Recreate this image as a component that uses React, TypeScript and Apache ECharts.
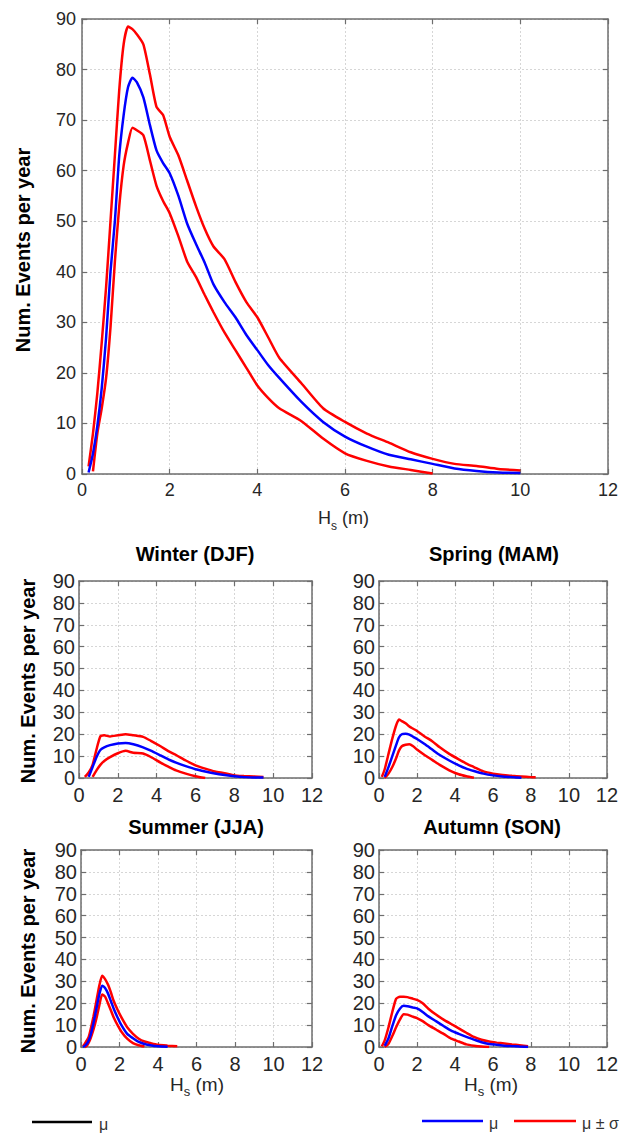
import React, { useEffect, useRef } from "react";
import * as echarts from "echarts";

// ---------- DATA ----------
const xTicks = [0, 2, 4, 6, 8, 10, 12];
const yTicks = [0, 10, 20, 30, 40, 50, 60, 70, 80, 90];

// All seasons (main panel)
const mainHs = [0.15, 0.25, 0.35, 0.45, 0.55, 0.65, 0.75, 0.85, 0.95, 1.05, 1.15, 1.25, 1.4, 1.55, 1.7, 1.85, 2.0, 2.2, 2.4, 2.6, 2.8, 3.0, 3.25, 3.5, 3.75, 4.0, 4.25, 4.5, 5.0, 5.5, 6.0, 6.5, 7.0, 7.5, 8.0, 8.5, 9.0, 9.5, 10.0];
const mainMean = [0.3, 4, 9.5, 17, 27, 40, 50, 63, 71, 76.5, 78.4, 77.5, 74.5, 69, 64, 61.5, 59.5, 55, 49.5, 45.5, 41.8, 37.5, 34, 31, 27.5, 24.5, 21.5, 19, 14.3, 10.3, 7.4, 5.4, 3.8, 2.9, 2, 1.1, 0.6, 0.3, 0.2];
const mainUpper = [1.5, 8, 16, 26, 37, 50, 63, 76, 85, 88.5, 88, 87, 85, 79, 72.6, 71, 66.7, 63, 58, 53, 48.5, 45, 42.5, 38, 34, 31, 27, 23, 18, 13, 10.3, 8, 6.2, 4.3, 3, 2, 1.6, 1, 0.7];
const mainLower = [null, 0.5, 8, 13, 19, 29, 42, 53, 61, 65.5, 68.5, 68, 67, 62, 57, 54, 51.6, 47, 42, 39, 35.4, 32, 28, 24.5, 21, 17.5, 15, 13, 10.5, 7, 4.1, 2.6, 1.5, 0.8, 0.1, null, null, null, null];

// Winter (DJF)
const winterHs = [0.3, 0.5, 0.7, 0.9, 1.1, 1.3, 1.6, 2.0, 2.4, 2.8, 3.3, 3.7, 4.2, 4.6, 5.0, 5.5, 6.0, 6.5, 7.0, 7.5, 8.0, 8.5, 9.0, 9.5];
const winterUpper = [0.5, 2.5, 6, 13, 19, 19.5, 19, 19.5, 20, 19.5, 18.8, 17, 14.5, 12.3, 10.5, 8, 5.8, 4.3, 3, 2.2, 1.2, 0.9, 0.7, 0.5];
const winterMean = [null, 0.5, 5, 9.5, 12.8, 14, 15, 15.8, 16, 15.4, 14, 12.5, 10.3, 8.5, 7, 5.4, 4, 3, 2.1, 1.4, 0.8, 0.4, 0.2, 0.2];
const winterLower = [null, null, 0.5, 3.5, 6, 7.8, 9.5, 11.3, 12.4, 11.5, 11.2, 9.6, 7, 5.2, 3.5, 2, 0.8, 0, null, null, null, null, null, null];

// Spring (MAM)
const springHs = [0.15, 0.3, 0.5, 0.7, 0.9, 1.05, 1.2, 1.4, 1.6, 1.8, 2.0, 2.4, 2.8, 3.2, 3.7, 4.2, 4.6, 5.0, 5.5, 6.0, 6.5, 7.0, 7.5, 8.0, 8.25];
const springUpper = [0.5, 4, 11, 18, 24, 26.7, 26, 25, 23.5, 22.5, 21.5, 19, 16.8, 14, 11, 8.5, 6.6, 5, 3, 2, 1.4, 1, 0.7, 0.4, 0.3];
const springMean = [null, 0.5, 5, 10, 15, 18.5, 20, 20.2, 19.8, 18.8, 17.8, 15.5, 13, 10.5, 8, 5.8, 4.3, 3.2, 2, 1.2, 0.7, 0.4, 0.1, null, null];
const springLower = [null, 0, 2, 5, 9, 12.5, 14.5, 15.2, 15.4, 14.5, 13, 10.5, 8.3, 6, 3.5, 1.7, 0.8, 0.1, null, null, null, null, null, null, null];

// Summer (JJA)
const summerHs = [0.1, 0.2, 0.3, 0.4, 0.5, 0.65, 0.8, 0.95, 1.1, 1.25, 1.4, 1.55, 1.7, 1.9, 2.1, 2.4, 2.7, 3.0, 3.3, 3.6, 4.0, 4.5, 5.0];
const summerUpper = [0.3, 1.5, 3, 4.6, 8, 14, 21, 28, 32.5, 31, 28.5, 25, 21, 17, 13.5, 9, 6, 3.8, 2.5, 1.8, 1.0, 0.6, 0.3];
const summerMean = [0, 0.5, 1.5, 3, 5.5, 11, 17.5, 24, 28, 27, 24.5, 21, 17.5, 13.5, 10, 6, 4, 2.3, 1.4, 0.8, 0.3, 0.1, null];
const summerLower = [null, 0, 0.5, 2, 4, 8, 13, 19, 24, 23, 20, 16.8, 13.5, 10, 7, 3.8, 1.8, 0.8, 0.2, null, null, null, null];

// Autumn (SON)
const autumnHs = [0.15, 0.3, 0.5, 0.7, 0.9, 1.1, 1.3, 1.5, 1.8, 2.0, 2.3, 2.6, 3.0, 3.4, 3.8, 4.2, 4.6, 5.0, 5.4, 5.8, 6.2, 6.6, 7.0, 7.4, 7.85];
const autumnUpper = [0.3, 3, 9, 16, 22, 23, 23, 22.8, 22, 21.5, 20, 17.5, 14.8, 12.5, 10.5, 8.5, 6.5, 4.6, 3.3, 2.5, 2, 1.6, 1.2, 0.8, 0.3];
const autumnMean = [null, 0.5, 4, 9.5, 14.5, 17.5, 18.8, 18.6, 18, 17.6, 16, 14, 11.8, 9.6, 7.5, 6, 4.6, 3.4, 2.2, 1.4, 1, 0.6, 0.4, 0.2, 0];
const autumnLower = [null, 0, 1.5, 5, 9, 12.5, 15, 14.8, 13.8, 13.2, 11.8, 10, 8, 6, 3.8, 2.5, 1.2, 0.6, 0.2, 0, null, null, null, null, null];

const panelTitles = ["", "Winter (DJF)", "Spring (MAM)", "Summer (JJA)", "Autumn (SON)"];
const yAxisTitle = "Num. Events per year";
const legendMean = "μ";
const legendBand = "μ ± σ";

// ---------- LAYOUT ----------
const FONT = '"Liberation Sans", Arial, sans-serif';
const panels = [
  { hs: mainHs, mean: mainMean, upper: mainUpper, lower: mainLower, left: 82, top: 19, width: 529, height: 455, tickFont: 18, yMargin: 6 },
  { hs: winterHs, mean: winterMean, upper: winterUpper, lower: winterLower, left: 79, top: 581, width: 233, height: 197, tickFont: 20, yMargin: 4 },
  { hs: springHs, mean: springMean, upper: springUpper, lower: springLower, left: 379, top: 581, width: 230, height: 197, tickFont: 20, yMargin: 4 },
  { hs: summerHs, mean: summerMean, upper: summerUpper, lower: summerLower, left: 81, top: 850, width: 231, height: 197, tickFont: 20, yMargin: 4 },
  { hs: autumnHs, mean: autumnMean, upper: autumnUpper, lower: autumnLower, left: 379, top: 850, width: 229, height: 197, tickFont: 20, yMargin: 4 },
];

const pairs = (xs: number[], ys: (number | null)[]) =>
  xs.map((x, i) => [x, ys[i]] as [number, number | null]).filter((p) => p[1] !== null);

const AXIS_COLOR = "#6e6e6e";
const LABEL_COLOR = "#262626";

function buildOption() {
  const grid: any[] = [];
  const xAxis: any[] = [];
  const yAxis: any[] = [];
  const series: any[] = [];
  const graphic: any[] = [];

  panels.forEach((p, g) => {
    grid.push({ left: p.left, top: p.top, width: p.width, height: p.height, containLabel: false });
    const line = { show: true, onZero: false, lineStyle: { color: AXIS_COLOR, width: 1.5 } };
    const tick = { show: true, inside: true, length: 5, lineStyle: { color: AXIS_COLOR, width: 1.2 } };
    xAxis.push({
      type: "value", gridIndex: g, position: "bottom", min: xTicks[0], max: xTicks[xTicks.length - 1], interval: 2,
      axisLine: line, axisTick: tick,
      axisLabel: { show: true, fontSize: p.tickFont, color: LABEL_COLOR, fontFamily: FONT, margin: 7, showMinLabel: true, showMaxLabel: true },
      splitLine: { show: true, lineStyle: { color: "#d6d6d6", width: 1, type: [2, 2] } },
    });
    xAxis.push({
      type: "value", gridIndex: g, position: "top", min: xTicks[0], max: xTicks[xTicks.length - 1], interval: 2,
      axisLine: line, axisTick: tick, axisLabel: { show: false }, splitLine: { show: false },
    });
    yAxis.push({
      type: "value", gridIndex: g, position: "left", min: yTicks[0], max: yTicks[yTicks.length - 1], interval: 10,
      axisLine: line, axisTick: tick,
      axisLabel: { show: true, fontSize: p.tickFont, color: LABEL_COLOR, fontFamily: FONT, margin: p.yMargin, showMinLabel: true, showMaxLabel: true },
      splitLine: { show: true, lineStyle: { color: "#d6d6d6", width: 1, type: [2, 2] } },
    });
    yAxis.push({
      type: "value", gridIndex: g, position: "right", min: yTicks[0], max: yTicks[yTicks.length - 1], interval: 10,
      axisLine: line, axisTick: tick, axisLabel: { show: false }, splitLine: { show: false },
    });
    const common = { type: "line", xAxisIndex: 2 * g, yAxisIndex: 2 * g, symbol: "none", showSymbol: false, silent: true, smooth: 0.2 };
    series.push({ ...common, name: legendBand, data: pairs(p.hs, p.upper), lineStyle: { color: "#ff0000", width: 2.5 }, itemStyle: { color: "#ff0000" } });
    series.push({ ...common, name: legendBand, data: pairs(p.hs, p.lower), lineStyle: { color: "#ff0000", width: 2.5 }, itemStyle: { color: "#ff0000" } });
    series.push({ ...common, name: legendMean, data: pairs(p.hs, p.mean), lineStyle: { color: "#0000ff", width: 2.5 }, itemStyle: { color: "#0000ff" } });
  });

  // Y axis titles (rotated)
  const yNames = [
    { x: 23, y: 250 },
    { x: 28, y: 681 },
    { x: 28, y: 951 },
  ];
  yNames.forEach((n) =>
    graphic.push({
      type: "text", x: n.x, y: n.y, rotation: Math.PI / 2,
      style: { text: yAxisTitle, fontSize: 20, fontWeight: "bold", fontFamily: FONT, fill: "#000", align: "center", verticalAlign: "middle" },
    })
  );

  // Panel titles
  const titlePos = [null, { x: 195, y: 554 }, { x: 494, y: 554 }, { x: 196, y: 827 }, { x: 492, y: 827 }];
  titlePos.forEach((t, i) => {
    if (!t) return;
    graphic.push({
      type: "text", x: t.x, y: t.y,
      style: { text: panelTitles[i], fontSize: 20, fontWeight: "bold", fontFamily: FONT, fill: "#000", align: "center", verticalAlign: "middle" },
    });
  });

  // X axis titles H_s (m)
  const xNames = [
    { x: 318, y: 518, size: 18 },
    { x: 170, y: 1084, size: 19 },
    { x: 464, y: 1084, size: 19 },
  ];
  xNames.forEach((n) => {
    const hW = n.size * 0.722;
    const sSize = Math.round(n.size * 0.68);
    const sW = sSize * 0.5;
    graphic.push({ type: "text", x: n.x, y: n.y, style: { text: "H", fontSize: n.size, fontFamily: FONT, fill: LABEL_COLOR, align: "left", verticalAlign: "middle" } });
    graphic.push({ type: "text", x: n.x + hW, y: n.y + n.size * 0.42, style: { text: "s", fontSize: sSize, fontFamily: FONT, fill: LABEL_COLOR, align: "left", verticalAlign: "middle" } });
    graphic.push({ type: "text", x: n.x + hW + sW, y: n.y, style: { text: " (m)", fontSize: n.size, fontFamily: FONT, fill: LABEL_COLOR, align: "left", verticalAlign: "middle" } });
  });

  // Legends
  const legends = [
    { x1: 32, x2: 92, y: 1122, color: "#000000", text: legendMean, tx: 99 },
    { x1: 422, x2: 483, y: 1121, color: "#0000ff", text: legendMean, tx: 489 },
    { x1: 514, x2: 576, y: 1121, color: "#ff0000", text: legendBand, tx: 582 },
  ];
  legends.forEach((l) => {
    graphic.push({ type: "line", shape: { x1: l.x1, y1: l.y, x2: l.x2, y2: l.y }, style: { stroke: l.color, lineWidth: 2.5 } });
    graphic.push({ type: "text", x: l.tx, y: l.y + 2, style: { text: l.text, fontSize: 16, fontFamily: FONT, fill: "#333", align: "left", verticalAlign: "middle" } });
  });

  return { animation: false, backgroundColor: "#ffffff", grid, xAxis, yAxis, series, graphic };
}

export default function App() {
  const ref = useRef<HTMLDivElement>(null);
  useEffect(() => {
    if (!ref.current) return;
    const chart = echarts.init(ref.current, null, { renderer: "svg" });
    chart.setOption(buildOption() as any);
    return () => chart.dispose();
  }, []);
  return <div ref={ref} style={{ position: "absolute", left: 0, top: 0, width: 621, height: 1135, background: "#fff" }} />;
}
